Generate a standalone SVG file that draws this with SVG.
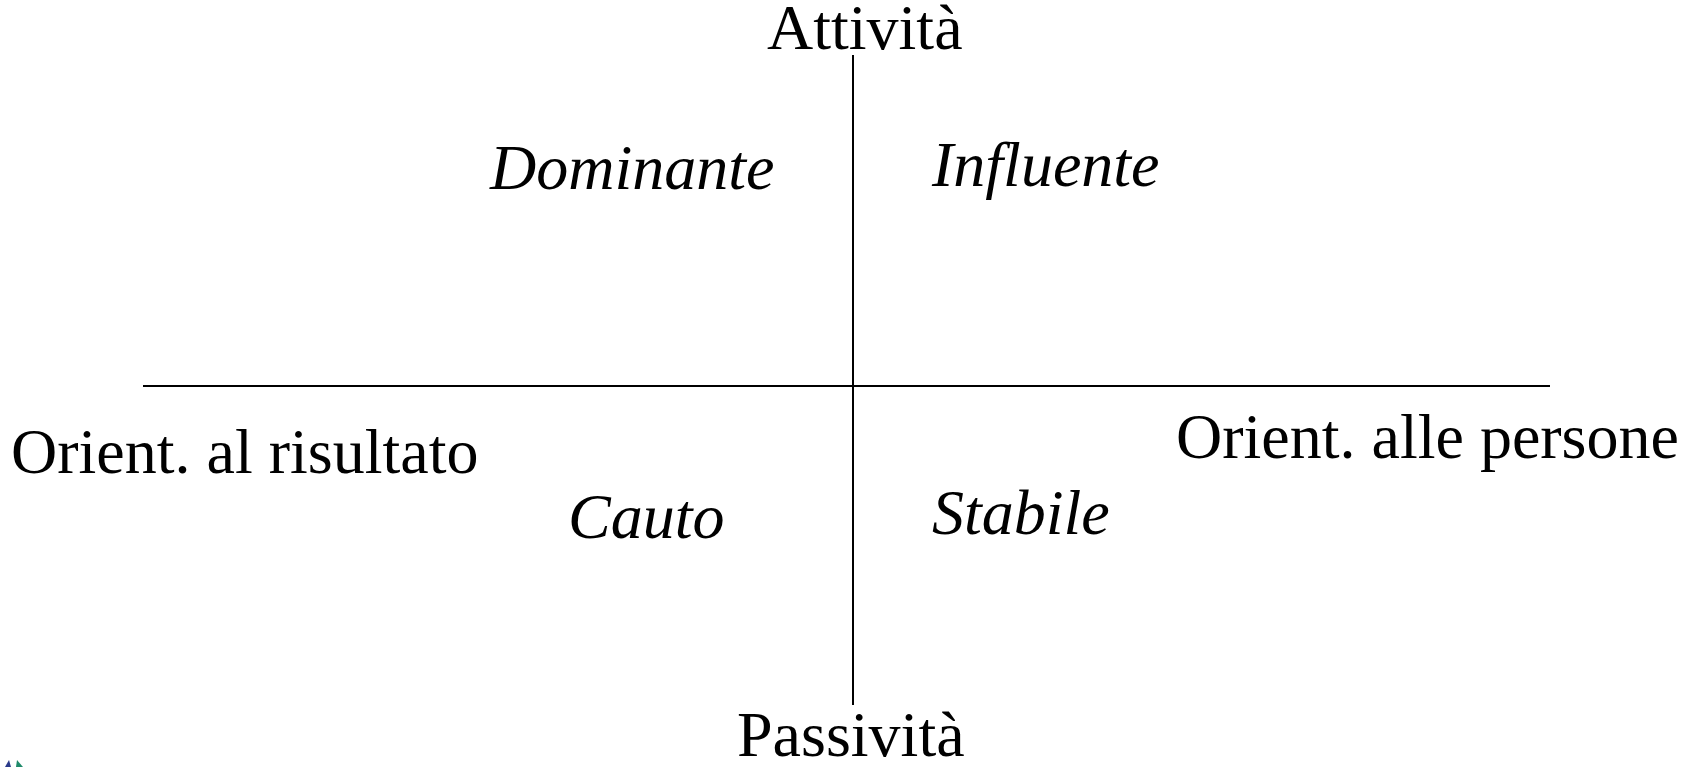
<svg xmlns="http://www.w3.org/2000/svg" width="1687" height="767" viewBox="0 0 1687 767">
<style>
.t{font-family:"Liberation Serif","Times New Roman",serif;font-size:64px;fill:#000}
.i{font-style:italic}
.ax{stroke:#000;stroke-width:2;fill:none}
</style>
<rect width="1687" height="767" fill="#fff"/>
<g id="connectors">
<line class="ax" x1="143" y1="386" x2="1550" y2="386"/>
<line class="ax" x1="853" y1="55" x2="853" y2="705"/>
</g>
<g id="attivita"><text class="t" x="767" y="49">Attività</text></g>
<g id="passivita"><text class="t" x="737" y="756">Passività</text></g>
<g id="orient-risultato"><text class="t" x="11" y="473">Orient. al risultato</text></g>
<g id="orient-persone"><text class="t" x="1176" y="458">Orient. alle persone</text></g>
<g id="dominante"><text class="t i" x="490" y="189">Dominante</text></g>
<g id="influente"><text class="t i" x="932" y="186">Influente</text></g>
<g id="cauto"><text class="t i" x="568" y="538">Cauto</text></g>
<g id="stabile"><text class="t i" x="932" y="534">Stabile</text></g>
<g id="logo">
<polygon points="5,767 9,760 11,767" fill="#2a3a8a"/>
<polygon points="16,767 17,760 23,767" fill="#1f8a6a"/>
</g>
</svg>
